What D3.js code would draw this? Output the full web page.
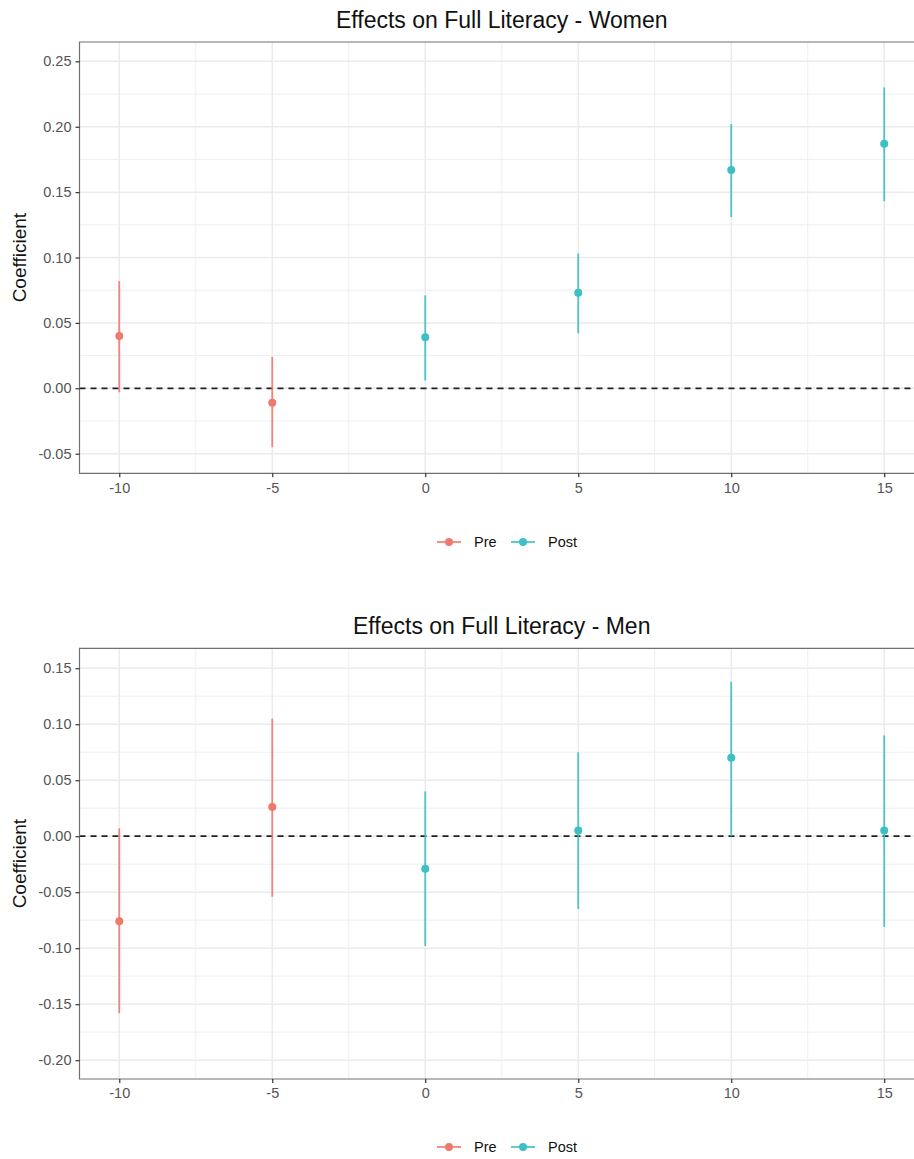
<!DOCTYPE html>
<html>
<head>
<meta charset="utf-8">
<script src="https://cdn.jsdelivr.net/npm/d3@7"></script>
<style>
  html, body { margin: 0; padding: 0; background: #fff; overflow: hidden; }
  svg { display: block; font-family: "Liberation Sans", Arial, Helvetica, sans-serif; }
</style>
</head>
<body>
<svg id="chart" width="914" height="1159"></svg>
<script>
// Event-time periods (years relative to the reform)
const periods = [-10, -5, 0, 5, 10, 15];
const phase = ["Pre", "Pre", "Post", "Post", "Post", "Post"];
const phaseLabels = ["Pre", "Post"];

// Women: point estimates and confidence bounds
const womenEst = [0.040, -0.011, 0.039, 0.073, 0.167, 0.187];
const womenLo  = [-0.003, -0.045, 0.006, 0.042, 0.131, 0.143];
const womenHi  = [0.082, 0.024, 0.071, 0.103, 0.202, 0.230];

// Men: point estimates and confidence bounds
const menEst = [-0.076, 0.026, -0.029, 0.005, 0.070, 0.005];
const menLo  = [-0.158, -0.054, -0.098, -0.065, 0.000, -0.081];
const menHi  = [0.007, 0.105, 0.040, 0.075, 0.138, 0.090];

// Axis ticks
const xTicks = [-10, -5, 0, 5, 10, 15];
const xMinor = [-7.5, -2.5, 2.5, 7.5, 12.5];
const womenYTicks = [-0.05, 0.00, 0.05, 0.10, 0.15, 0.20, 0.25];
const womenYMinor = [-0.025, 0.025, 0.075, 0.125, 0.175, 0.225];
const menYTicks = [-0.20, -0.15, -0.10, -0.05, 0.00, 0.05, 0.10, 0.15];
const menYMinor = [-0.175, -0.125, -0.075, -0.025, 0.025, 0.075, 0.125];

const colors = { Pre: "#F0796E", Post: "#3DBFC6" };
const svg = d3.select("#chart");

// plain hyphen for negative numbers
const hyphen = f => d => f(d).replace("\u2212", "-");

function drawPanel(opt) {
  const left = 79.5, right = 924;
  const x = d3.scaleLinear().domain([-11.3, 16.3]).range([left, right]);
  const y = d3.scaleLinear().domain(opt.yDomain).range([opt.bottom, opt.top]);

  const g = svg.append("g");

  // title
  g.append("text")
    .attr("x", (left + right) / 2).attr("y", opt.top - 14)
    .attr("text-anchor", "middle").attr("font-size", 23).attr("fill", "#111")
    .text(opt.title);

  // grid
  const grid = g.append("g");
  grid.selectAll(".ymin").data(opt.yMinor).join("line")
    .attr("x1", left).attr("x2", right)
    .attr("y1", d => y(d)).attr("y2", d => y(d))
    .attr("stroke", "#efefef").attr("stroke-width", 1);
  grid.selectAll(".xmin").data(xMinor).join("line")
    .attr("y1", opt.top).attr("y2", opt.bottom)
    .attr("x1", d => x(d)).attr("x2", d => x(d))
    .attr("stroke", "#efefef").attr("stroke-width", 1);
  grid.selectAll(".ymaj").data(opt.yTicks).join("line")
    .attr("x1", left).attr("x2", right)
    .attr("y1", d => y(d)).attr("y2", d => y(d))
    .attr("stroke", "#ebebeb").attr("stroke-width", 1.5);
  grid.selectAll(".xmaj").data(xTicks).join("line")
    .attr("y1", opt.top).attr("y2", opt.bottom)
    .attr("x1", d => x(d)).attr("x2", d => x(d))
    .attr("stroke", "#ebebeb").attr("stroke-width", 1.5);

  // zero reference line
  g.append("line")
    .attr("x1", left).attr("x2", right)
    .attr("y1", y(0)).attr("y2", y(0))
    .attr("stroke", "#222").attr("stroke-width", 1.7)
    .attr("stroke-dasharray", "6,5");

  // error bars and points
  const rows = periods.map((p, i) => ({ p, ph: phase[i], est: opt.est[i], lo: opt.lo[i], hi: opt.hi[i] }));
  g.selectAll(".bar").data(rows).join("line")
    .attr("x1", d => x(d.p)).attr("x2", d => x(d.p))
    .attr("y1", d => y(d.lo)).attr("y2", d => y(d.hi))
    .attr("stroke", d => colors[d.ph]).attr("stroke-width", 1.8).attr("opacity", 0.9);
  g.selectAll(".pt").data(rows).join("circle")
    .attr("cx", d => x(d.p)).attr("cy", d => y(d.est)).attr("r", 4)
    .attr("fill", d => colors[d.ph]);

  // panel border (left, top, bottom)
  g.append("path")
    .attr("d", `M${right},${opt.top}H${left}V${opt.bottom}H${right}`)
    .attr("fill", "none").attr("stroke", "#707070").attr("stroke-width", 1.2);

  const yAxis = g.append("g").attr("transform", `translate(${left},0)`)
    .call(d3.axisLeft(y).tickValues(opt.yTicks).tickFormat(hyphen(d3.format(".2f"))).tickSize(4).tickPadding(4));
  const xAxis = g.append("g").attr("transform", `translate(0,${opt.bottom})`)
    .call(d3.axisBottom(x).tickValues(xTicks).tickFormat(hyphen(d3.format("d"))).tickSize(4).tickPadding(5));
  [yAxis, xAxis].forEach(a => {
    a.select(".domain").remove();
    a.selectAll(".tick line").attr("stroke", "#333").attr("stroke-width", 1.2);
    a.selectAll(".tick text").attr("fill", "#555").attr("font-size", 14.5)
      .attr("font-family", "Liberation Sans, Arial, sans-serif");
  });

  // y title
  g.append("text")
    .attr("transform", `translate(26,${(opt.top + opt.bottom) / 2}) rotate(-90)`)
    .attr("text-anchor", "middle").attr("font-size", 19).attr("fill", "#111")
    .text("Coefficient");

  // legend
  const leg = g.append("g").attr("transform", `translate(437,${opt.legendY})`);
  const offsets = [0, 74];
  phaseLabels.forEach((lab, i) => {
    const k = leg.append("g").attr("transform", `translate(${offsets[i]},0)`);
    k.append("line").attr("x1", 0).attr("x2", 24).attr("y1", 0).attr("y2", 0)
      .attr("stroke", colors[lab]).attr("stroke-width", 1.8).attr("opacity", 0.9);
    k.append("circle").attr("cx", 12).attr("cy", 0).attr("r", 4)
      .attr("fill", colors[lab]);
    k.append("text").attr("x", 37).attr("y", 5).attr("font-size", 14.5).attr("fill", "#111").text(lab);
  });
}

drawPanel({
  title: "Effects on Full Literacy - Women",
  top: 42, bottom: 473.3, yDomain: [-0.065, 0.2648],
  yTicks: womenYTicks, yMinor: womenYMinor,
  est: womenEst, lo: womenLo, hi: womenHi, legendY: 542
});

drawPanel({
  title: "Effects on Full Literacy - Men",
  top: 648.3, bottom: 1079, yDomain: [-0.2168, 0.1678],
  yTicks: menYTicks, yMinor: menYMinor,
  est: menEst, lo: menLo, hi: menHi, legendY: 1147
});
</script>
</body>
</html>
